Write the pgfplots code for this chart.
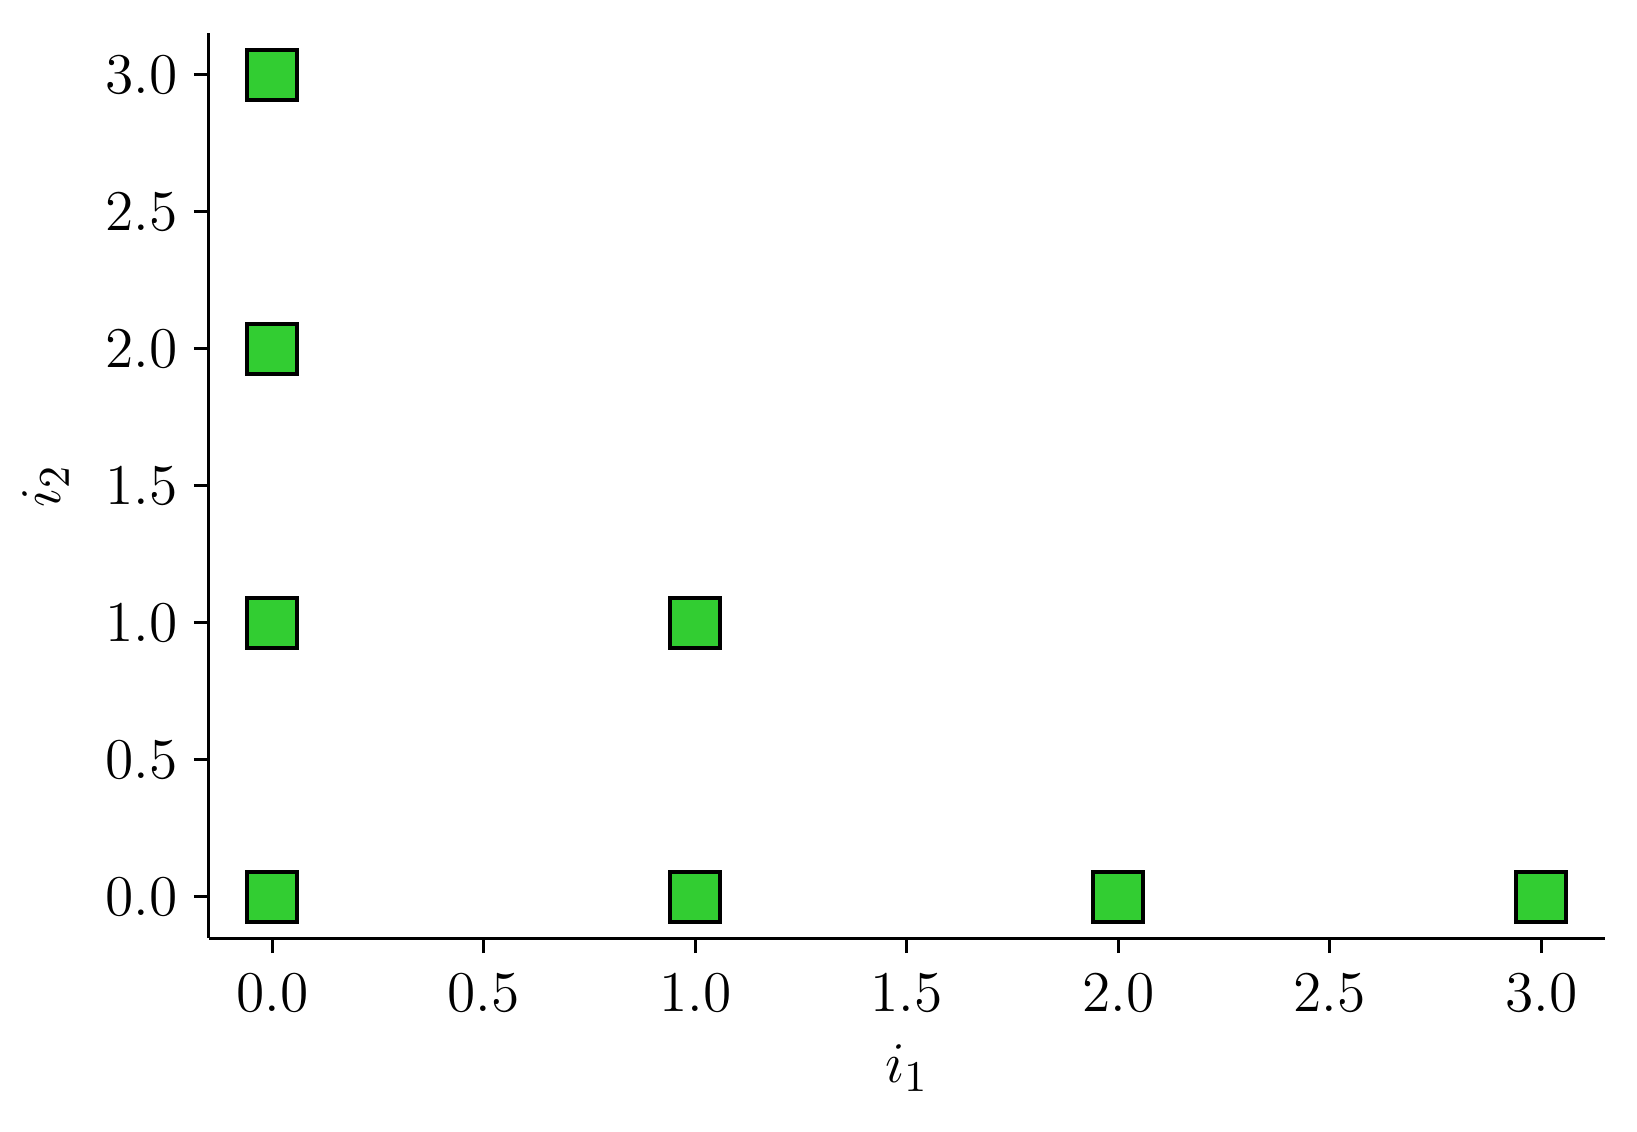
\documentclass[border=0pt]{standalone}
\usepackage{pgfplots}
\pgfplotsset{compat=1.18}
\definecolor{limegreen}{HTML}{32CD32}
\begin{document}
\begin{tikzpicture}
\begin{axis}[
  scale only axis,
  width=349pt, height=226.2pt,
  xmin=-0.15, xmax=3.15, ymin=-0.15, ymax=3.15,
  axis lines=left,
  axis line style={-, line width=0.75pt},
  tick style={line width=0.75pt, black},
  major tick length=3.75pt,
  tick align=outside,
  xtick={0,0.5,1,1.5,2,2.5,3},
  ytick={0,0.5,1,1.5,2,2.5,3},
  /pgf/number format/fixed,
  /pgf/number format/fixed zerofill,
  /pgf/number format/precision=1,
  ticklabel style={font=\fontsize{15}{18}\selectfont},
  xticklabel style={yshift=-1.8pt},
  yticklabel style={xshift=-0.6pt},
  label style={font=\fontsize{15}{18}\selectfont},
  xlabel={$i_1$}, ylabel={$i_2$},
  xlabel style={yshift=-1.5pt},
  ylabel style={yshift=2.2pt},
  clip=false,
]
\addplot[only marks, mark=square*, mark size=6.25pt,
  mark options={fill=limegreen, draw=black, line width=1pt}]
  coordinates {(0,0) (1,0) (2,0) (3,0) (0,1) (1,1) (0,2) (0,3)};
\end{axis}
\pgfresetboundingbox
\path (current axis.south west) ++(-52.2pt,-48.4pt) coordinate (bl);
\path (current axis.north east) ++(8.1pt,8.35pt) coordinate (tr);
\useasboundingbox (bl) rectangle (tr);
\end{tikzpicture}
\end{document}
